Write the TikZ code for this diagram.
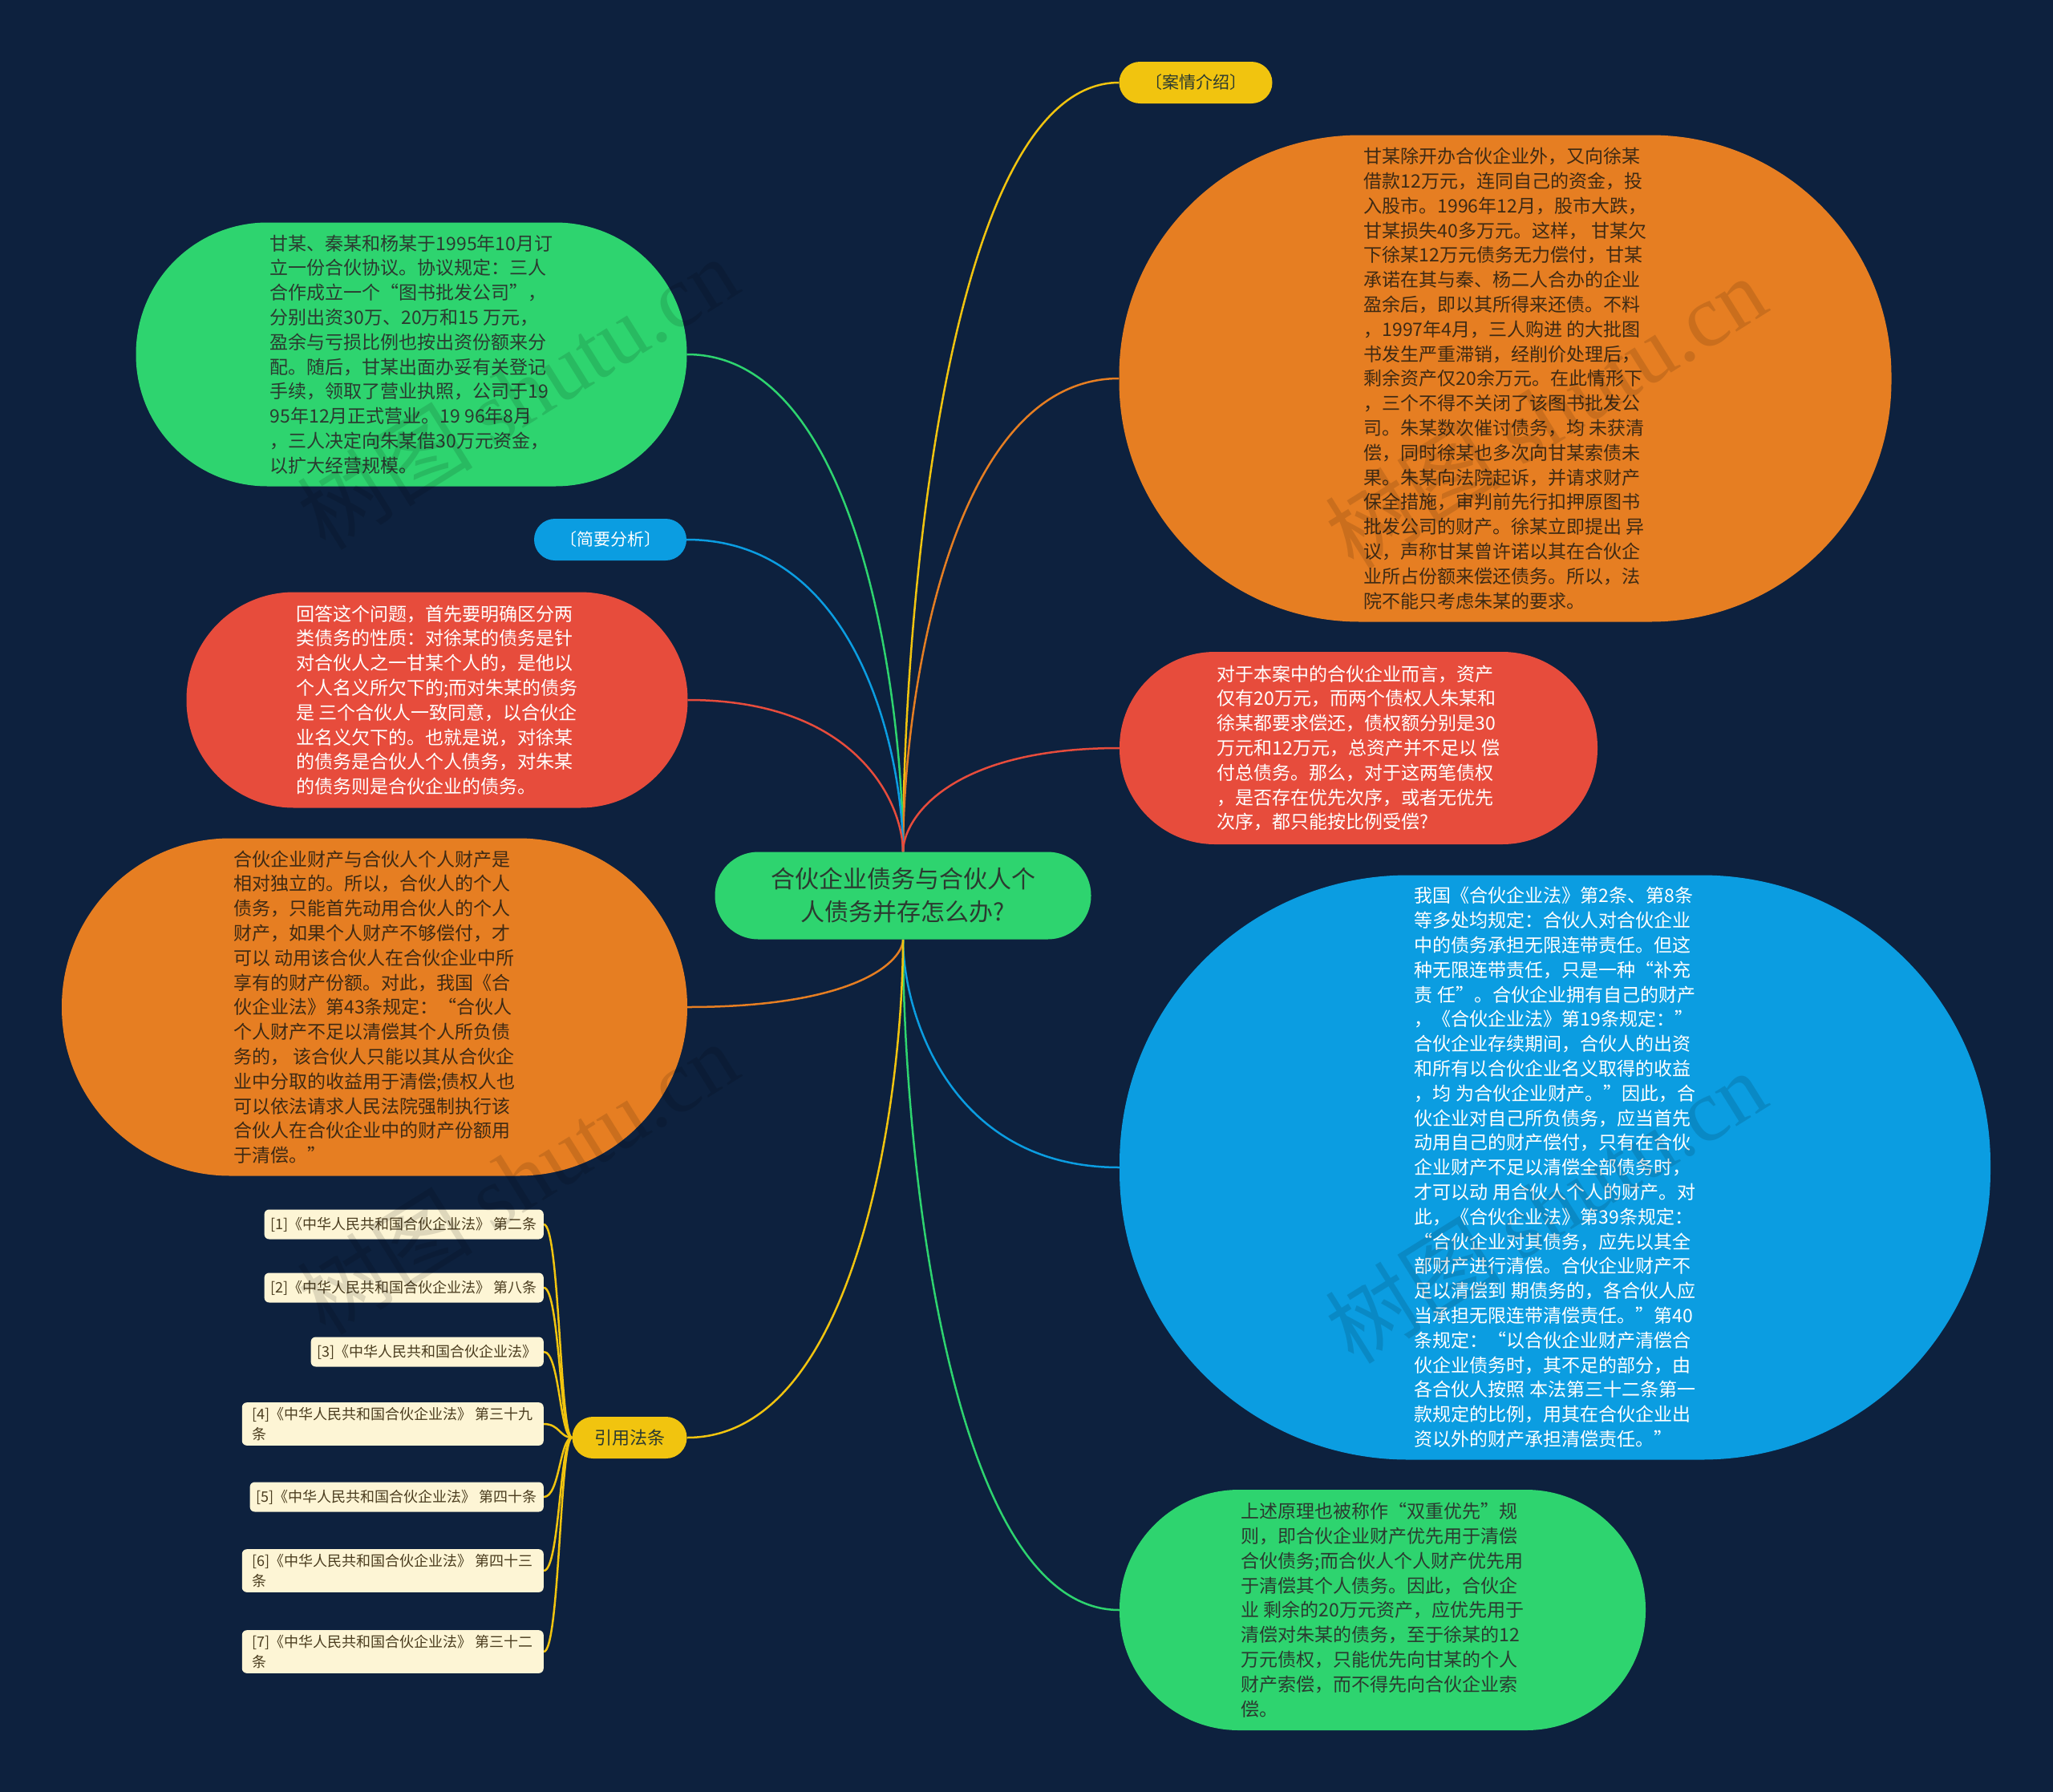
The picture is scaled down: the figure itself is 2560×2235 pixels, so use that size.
\documentclass[tikz,border=0pt]{standalone}
\usepackage{fontspec}
\setmainfont{Noto Sans CJK SC}
\newfontfamily\wmserif{Liberation Serif}
\usetikzlibrary{calc}
\definecolor{bgc}{HTML}{0D213E}
\definecolor{cgreen}{HTML}{2ED46F}
\definecolor{corange}{HTML}{E67E22}
\definecolor{cred}{HTML}{E74C3C}
\definecolor{cblue}{HTML}{0B9DE1}
\definecolor{cyellow}{HTML}{F1C40F}
\definecolor{lawbg}{HTML}{FDF5D5}
\definecolor{lawtxt}{HTML}{4B3D1F}
\definecolor{gtxt}{HTML}{2B3A30}
\definecolor{otxt}{HTML}{3E2A14}
\pgfdeclarelayer{bglayer}
\pgfdeclarelayer{lines}
\pgfsetlayers{bglayer,lines,main}
\newcommand{\mmconn}[3]{\draw[conn,#1] let \p1=(#2), \p2=(#3) in (\p1) .. controls (\x1,{\y1+0.3*(\y2-\y1)}) and ({\x1+0.2*(\x2-\x1)},\y2) .. (\p2);}
\newcommand{\lawconn}[2]{\draw[conn,cyellow] let \p1=(#1), \p2=(#2) in (\p1) .. controls ({\x1+20pt},\y1) and ({\x1+20pt},\y2) .. (\p2);}
\tikzset{
  bubble/.style={inner sep=0pt, align=left, font=\fontsize{23}{30.8}\selectfont},
  label/.style={inner sep=0pt, align=center, font=\fontsize{21}{26}\selectfont, minimum height=52pt, rounded corners=26pt},
  lawitem/.style={fill=lawbg, text=lawtxt, rounded corners=6pt, inner xsep=8pt, inner ysep=6pt, align=left, anchor=east, minimum height=37pt, font=\fontsize{18}{25}\selectfont},
  conn/.style={line width=2.5pt},
  wmark/.style={rotate=32, text=black, opacity=0.12, font=\fontsize{110}{120}\selectfont}
}
\begin{document}
\begin{tikzpicture}[x=1pt,y=-1pt]
\useasboundingbox (0,0) rectangle (2560,2235);
\begin{pgfonlayer}{bglayer}
\fill[bgc] (0,0) rectangle (2560,2235);
\end{pgfonlayer}

% central
\node[fill=cgreen, text=gtxt, inner sep=0pt, align=center, minimum width=469pt, minimum height=109pt, rounded corners=54pt, font=\fontsize{30}{41}\selectfont] (c) at (1126,1117) {合伙企业债务与合伙人个\\人债务并存怎么办?};

% labels
\node[label, fill=cyellow, text=gtxt, minimum width=191pt] (qj) at (1491,103) {〔案情介绍〕};
\node[label, fill=cblue, text=white, minimum width=190pt] (jy) at (761,673) {〔简要分析〕};
\node[label, fill=cyellow, text=gtxt, minimum width=143pt, font=\fontsize{22}{26}\selectfont] (yy) at (785,1793) {引用法条};

% big bubbles
\node[bubble, fill=cgreen, text=gtxt, minimum width=687pt, minimum height=329pt, rounded corners=164pt] (gTL) at (513,442) {甘某、秦某和杨某于1995年10月订\\立一份合伙协议。协议规定：三人\\合作成立一个“图书批发公司”，\\分别出资30万、20万和15 万元，\\盈余与亏损比例也按出资份额来分\\配。随后，甘某出面办妥有关登记\\手续，领取了营业执照，公司于19\\95年12月正式营业。19 96年8月\\，三人决定向朱某借30万元资金，\\以扩大经营规模。};

\node[bubble, fill=corange, text=otxt, minimum width=963pt, minimum height=607pt, rounded corners=300pt] (oTR) at (1877,472) {甘某除开办合伙企业外，又向徐某\\借款12万元，连同自己的资金，投\\入股市。1996年12月，股市大跌，\\甘某损失40多万元。这样， 甘某欠\\下徐某12万元债务无力偿付，甘某\\承诺在其与秦、杨二人合办的企业\\盈余后，即以其所得来还债。不料\\，1997年4月，三人购进 的大批图\\书发生严重滞销，经削价处理后，\\剩余资产仅20余万元。在此情形下\\，三个不得不关闭了该图书批发公\\司。朱某数次催讨债务，均 未获清\\偿，同时徐某也多次向甘某索债未\\果。朱某向法院起诉，并请求财产\\保全措施，审判前先行扣押原图书\\批发公司的财产。徐某立即提出 异\\议，声称甘某曾许诺以其在合伙企\\业所占份额来偿还债务。所以，法\\院不能只考虑朱某的要求。};

\node[bubble, fill=cred, text=white, minimum width=625pt, minimum height=269pt, rounded corners=134pt] (rL) at (545,873) {回答这个问题，首先要明确区分两\\类债务的性质：对徐某的债务是针\\对合伙人之一甘某个人的，是他以\\个人名义所欠下的;而对朱某的债务\\是 三个合伙人一致同意，以合伙企\\业名义欠下的。也就是说，对徐某\\的债务是合伙人个人债务，对朱某\\的债务则是合伙企业的债务。};

\node[bubble, fill=cred, text=white, minimum width=596pt, minimum height=240pt, rounded corners=119pt] (rR) at (1694,933) {对于本案中的合伙企业而言，资产\\仅有20万元，而两个债权人朱某和\\徐某都要求偿还，债权额分别是30\\万元和12万元，总资产并不足以 偿\\付总债务。那么，对于这两笔债权\\，是否存在优先次序，或者无优先\\次序，都只能按比例受偿?};

\node[bubble, fill=corange, text=otxt, minimum width=780pt, minimum height=421pt, rounded corners=210pt] (oL) at (467,1256) {合伙企业财产与合伙人个人财产是\\相对独立的。所以，合伙人的个人\\债务，只能首先动用合伙人的个人\\财产，如果个人财产不够偿付，才\\可以 动用该合伙人在合伙企业中所\\享有的财产份额。对此，我国《合\\伙企业法》第43条规定：“合伙人\\个人财产不足以清偿其个人所负债\\务的， 该合伙人只能以其从合伙企\\业中分取的收益用于清偿;债权人也\\可以依法请求人民法院强制执行该\\合伙人在合伙企业中的财产份额用\\于清偿。”};

\node[bubble, fill=cblue, text=white, minimum width=1086pt, minimum height=729pt, rounded corners=360pt] (bR) at (1939,1456) {我国《合伙企业法》第2条、第8条\\等多处均规定：合伙人对合伙企业\\中的债务承担无限连带责任。但这\\种无限连带责任，只是一种“补充\\责 任”。合伙企业拥有自己的财产\\，《合伙企业法》第19条规定：”\\合伙企业存续期间，合伙人的出资\\和所有以合伙企业名义取得的收益\\，均 为合伙企业财产。”因此，合\\伙企业对自己所负债务，应当首先\\动用自己的财产偿付，只有在合伙\\企业财产不足以清偿全部债务时，\\才可以动 用合伙人个人的财产。对\\此，《合伙企业法》第39条规定：\\“合伙企业对其债务，应先以其全\\部财产进行清偿。合伙企业财产不\\足以清偿到 期债务的，各合伙人应\\当承担无限连带清偿责任。”第40\\条规定：“以合伙企业财产清偿合\\伙企业债务时，其不足的部分，由\\各合伙人按照 本法第三十二条第一\\款规定的比例，用其在合伙企业出\\资以外的财产承担清偿责任。”};

\node[bubble, fill=cgreen, text=gtxt, minimum width=656pt, minimum height=300pt, rounded corners=149pt] (gBR) at (1724,2008) {上述原理也被称作“双重优先”规\\则，即合伙企业财产优先用于清偿\\合伙债务;而合伙人个人财产优先用\\于清偿其个人债务。因此，合伙企\\业 剩余的20万元资产，应优先用于\\清偿对朱某的债务，至于徐某的12\\万元债权，只能优先向甘某的个人\\财产索偿，而不得先向合伙企业索\\偿。};

% law items
\node[lawitem] (l1) at (678,1527) {[1]《中华人民共和国合伙企业法》 第二条};
\node[lawitem] (l2) at (678,1606) {[2]《中华人民共和国合伙企业法》 第八条};
\node[lawitem] (l3) at (678,1686) {[3]《中华人民共和国合伙企业法》};
\node[lawitem, minimum width=376pt] (l4) at (678,1776) {[4]《中华人民共和国合伙企业法》 第三十九\\条};
\node[lawitem] (l5) at (678,1867) {[5]《中华人民共和国合伙企业法》 第四十条};
\node[lawitem, minimum width=376pt] (l6) at (678,1959) {[6]《中华人民共和国合伙企业法》 第四十三\\条};
\node[lawitem, minimum width=376pt] (l7) at (678,2060) {[7]《中华人民共和国合伙企业法》 第三十二\\条};

% connectors
\begin{pgfonlayer}{lines}
\mmconn{cyellow}{c.north}{qj.west}
\mmconn{cgreen}{c.north}{gTL.east}
\mmconn{corange}{c.north}{oTR.west}
\mmconn{cblue}{c.north}{jy.east}
\mmconn{cred}{c.north}{rL.east}
\mmconn{cred}{c.north}{rR.west}
\mmconn{corange}{c.south}{oL.east}
\mmconn{cblue}{c.south}{bR.west}
\mmconn{cgreen}{c.south}{gBR.west}
\mmconn{cyellow}{c.south}{yy.east}
\lawconn{l1.east}{yy.west}
\lawconn{l2.east}{yy.west}
\lawconn{l3.east}{yy.west}
\lawconn{l4.east}{yy.west}
\lawconn{l5.east}{yy.west}
\lawconn{l6.east}{yy.west}
\lawconn{l7.east}{yy.west}
\end{pgfonlayer}

% watermarks
\node[wmark] (w1) at (645,490) {树图 {\wmserif shutu.cn}};
\node[wmark] (w2) at (1927,514) {树图 {\wmserif shutu.cn}};
\node[wmark] (w3) at (645,1469) {树图 {\wmserif shutu.cn}};
\node[wmark] (w4) at (1927,1505) {树图 {\wmserif shutu.cn}};
\end{tikzpicture}
\end{document}
